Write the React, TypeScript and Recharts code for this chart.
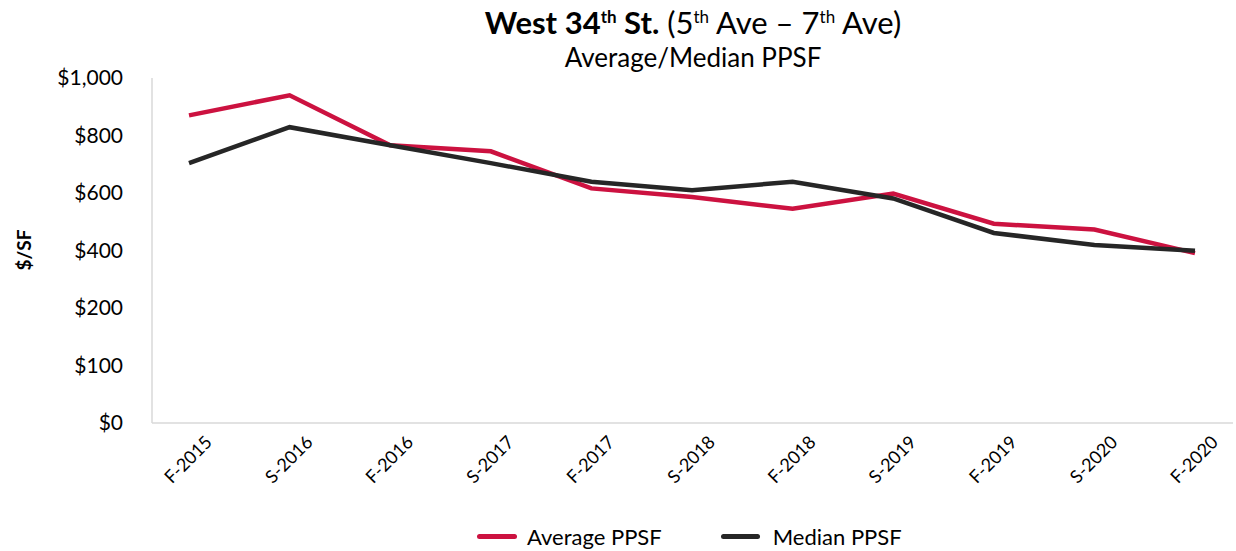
import React from "react";
import { CartesianGrid, Line, LineChart, XAxis, YAxis } from "recharts";

const categories = ["F-2015", "S-2016", "F-2016", "S-2017", "F-2017", "S-2018", "F-2018", "S-2019", "F-2019", "S-2020", "F-2020"];
const averagePpsf = [870, 940, 766, 745, 616, 586, 545, 598, 493, 473, 391];
const medianPpsf = [704, 829, 766, 704, 639, 610, 639, 581, 461, 419, 399];
const tickValues = [0, 100, 200, 400, 600, 800, 1000];

const RED = "#CC1240";
const DARK = "#262626";
const FONT = "Lato, 'Open Sans', sans-serif";

// the source axis is uneven: $0-$200 in $100 steps, then $200 steps, all equally spaced
const toAxis = (v: number) => (v <= 200 ? v / 100 : 2 + (v - 200) / 200);
const axisTicks = tickValues.map(toAxis);
const fmtTick = (t: number) => {
  const v = tickValues[axisTicks.indexOf(t)];
  return v === undefined ? "" : "$" + v.toLocaleString("en-US");
};

const data = categories.map((c, i) => ({
  name: c,
  avg: toAxis(averagePpsf[i]),
  med: toAxis(medianPpsf[i]),
}));

const supStyle = { fontSize: 17, lineHeight: 0 };

function XTick(props: any) {
  const { x, y, payload } = props;
  return (
    <g transform={`translate(${x + 20},${y + 8})`}>
      <text textAnchor="end" transform="rotate(-45)" fontSize={18} fill="#000" fontFamily={FONT} dy={6}>
        {payload.value}
      </text>
    </g>
  );
}

export default function App() {
  return (
    <div style={{ position: "absolute", left: 0, top: 0, width: 1236, height: 551, background: "#fff", fontFamily: FONT }}>
      <div style={{ position: "absolute", left: 0, width: 1386, top: 6, textAlign: "center", fontSize: 31, color: "#000", lineHeight: "32px" }}>
        <b>West 34<sup style={supStyle}>th</sup> St.</b> (5<sup style={supStyle}>th</sup> Ave – 7<sup style={supStyle}>th</sup> Ave)
      </div>
      <div style={{ position: "absolute", left: 0, width: 1386, top: 42, textAlign: "center", fontSize: 26, color: "#000", lineHeight: "30px" }}>
        Average/Median PPSF
      </div>
      <div
        style={{ position: "absolute", left: 23, top: 250, transform: "translate(-50%,-50%) rotate(-90deg)", fontSize: 19, fontWeight: 700, color: "#000", whiteSpace: "nowrap" }}
      >
        $/SF
      </div>
      <LineChart width={1236} height={551} data={data} margin={{ top: 78, right: 3, left: 0, bottom: 48 }}>
        <CartesianGrid stroke="none" />
        <XAxis
          dataKey="name"
          height={80}
          padding={{ left: 37, right: 38 }}
          tickLine={false}
          axisLine={{ stroke: "#d9d9d9", strokeWidth: 1.5 }}
          tick={<XTick />}
          interval={0}
        />
        <YAxis
          width={152}
          domain={[0, 6]}
          ticks={axisTicks}
          tickFormatter={fmtTick}
          tickLine={false}
          axisLine={{ stroke: "#d9d9d9", strokeWidth: 1.5 }}
          tick={{ fontSize: 21, fill: "#000", fontFamily: FONT, dx: -21 }}
          interval={0}
        />
        <Line type="linear" dataKey="avg" stroke={RED} strokeWidth={4.5} dot={false} isAnimationActive={false} />
        <Line type="linear" dataKey="med" stroke={DARK} strokeWidth={4.5} dot={false} isAnimationActive={false} />
      </LineChart>
      <div style={{ position: "absolute", top: 523, left: 477, display: "flex", alignItems: "center", fontSize: 22, color: "#000" }}>
        <span style={{ display: "inline-block", width: 40, height: 5, background: RED, borderRadius: 3, marginRight: 10 }} />
        <span style={{ marginRight: 59 }}>Average PPSF</span>
        <span style={{ display: "inline-block", width: 39, height: 5, background: DARK, borderRadius: 3, marginRight: 13 }} />
        <span>Median PPSF</span>
      </div>
    </div>
  );
}
